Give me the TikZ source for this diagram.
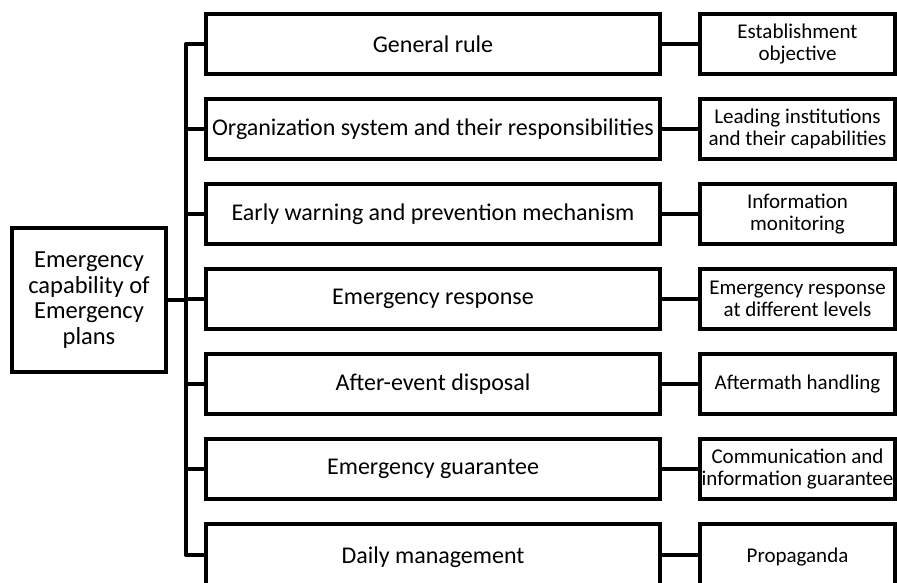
\documentclass[tikz,border=0pt]{standalone}
\usepackage{fontspec}
\setmainfont{Carlito}
\begin{document}
\begin{tikzpicture}[x=1pt,y=-1pt,
  box/.style={draw=black,line width=4.2pt,fill=white,inner sep=0pt,align=center},
  midbox/.style={box,minimum width=454pt,minimum height=60pt,font=\fontsize{24}{27}\selectfont},
  sidebox/.style={box,minimum width=195pt,minimum height=60pt,font=\fontsize{21}{22}\selectfont},
  rootbox/.style={box,minimum width=154pt,minimum height=144pt,font=\fontsize{24.5}{25.5}\selectfont},
  link/.style={draw=black,line width=4.2pt}]
\useasboundingbox (0,0) rectangle (897,583);
\fill[white] (0,0) rectangle (897,583);

% root of the tree
\node[rootbox] (root) at (89,300) {Emergency\\capability of\\Emergency\\plans};

% main topics and their details
\node[midbox] (m1) at (433,44) {General rule};
\node[midbox] (m2) at (433,129) {Organization system and their responsibilities};
\node[midbox] (m3) at (433,214) {Early warning and prevention mechanism};
\node[midbox] (m4) at (433,299) {Emergency response};
\node[midbox] (m5) at (433,384) {After-event disposal};
\node[midbox] (m6) at (433,469) {Emergency guarantee};
\node[midbox,minimum height=66pt] (m7) at (433,557) {Daily management};

\node[sidebox] (s1) at (797.5,44) {Establishment\\objective};
\node[sidebox] (s2) at (797.5,129) {Leading institutions\\and their capabilities};
\node[sidebox] (s3) at (797.5,214) {Information\\monitoring};
\node[sidebox] (s4) at (797.5,299) {Emergency response\\at different levels};
\node[sidebox] (s5) at (797.5,384) {Aftermath handling};
\node[sidebox] (s6) at (797.5,469) {Communication and\\information guarantee};
\node[sidebox,minimum height=66pt] (s7) at (797.5,557) {Propaganda};

% vertical bus
\coordinate (bt) at (186,44);
\coordinate (bb) at (186,555);
\coordinate (b7) at (m7.west |- bb);
\draw[link,line join=round] (m1.west) -- (bt) -- (bb) -- (b7);
\draw[link] (root.east) -- (186,300);
\foreach \i in {2,...,6} {
  \draw[link] (m\i.west) -- (186,0 |- m\i.west);
}
\foreach \i in {1,...,6} {
  \draw[link] (m\i.east) -- (s\i.west);
}
\draw[link] (m7.east |- bb) -- (s7.west |- bb);
\end{tikzpicture}
\end{document}
